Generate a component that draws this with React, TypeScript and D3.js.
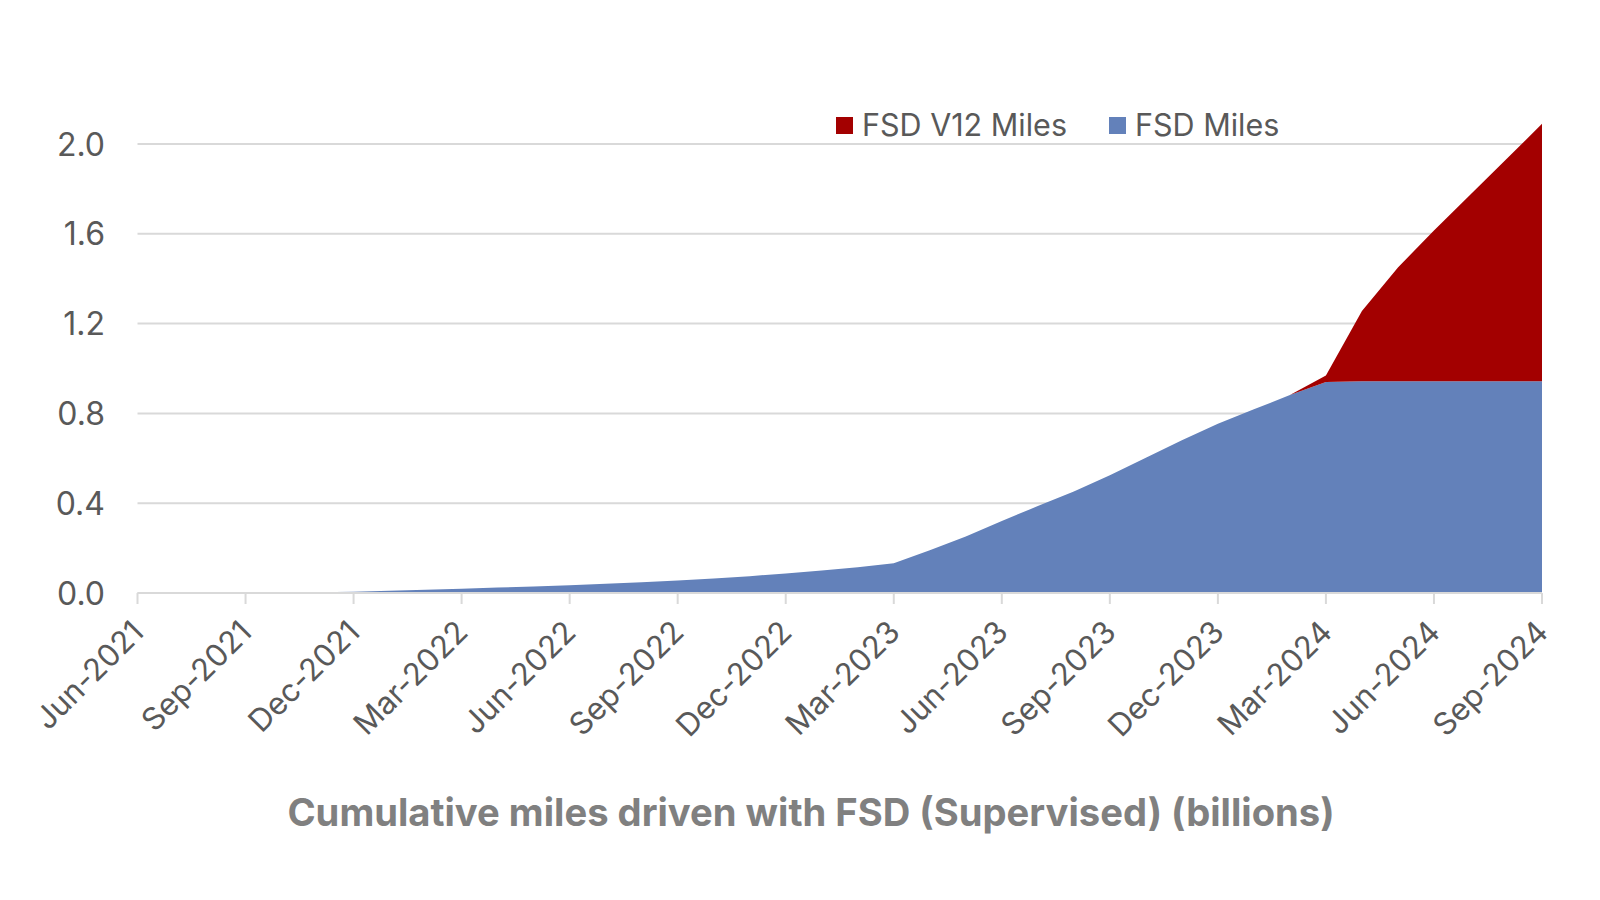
import React from "react"
import * as d3 from "d3"

// month categories, Jun-2021 .. Sep-2024
const months: string[] = [
	"Jun-2021", "Jul-2021", "Aug-2021", "Sep-2021", "Oct-2021", "Nov-2021", "Dec-2021",
	"Jan-2022", "Feb-2022", "Mar-2022", "Apr-2022", "May-2022", "Jun-2022", "Jul-2022",
	"Aug-2022", "Sep-2022", "Oct-2022", "Nov-2022", "Dec-2022", "Jan-2023", "Feb-2023",
	"Mar-2023", "Apr-2023", "May-2023", "Jun-2023", "Jul-2023", "Aug-2023", "Sep-2023",
	"Oct-2023", "Nov-2023", "Dec-2023", "Jan-2024", "Feb-2024", "Mar-2024", "Apr-2024",
	"May-2024", "Jun-2024", "Jul-2024", "Aug-2024", "Sep-2024",
]

// cumulative FSD miles (billions), bottom series
const fsdMiles: number[] = [
	0, 0, 0, 0, 0.001, 0.003, 0.006,
	0.01, 0.014, 0.019, 0.024, 0.029, 0.035, 0.041,
	0.048, 0.056, 0.065, 0.075, 0.087, 0.1, 0.115,
	0.132, 0.19, 0.252, 0.321, 0.387, 0.452, 0.524,
	0.602, 0.68, 0.754, 0.818, 0.882, 0.94, 0.943,
	0.943, 0.943, 0.943, 0.943, 0.943,
]

// cumulative FSD V12 miles (billions), stacked on top
const v12Miles: number[] = [
	0, 0, 0, 0, 0, 0, 0,
	0, 0, 0, 0, 0, 0, 0,
	0, 0, 0, 0, 0, 0, 0,
	0, 0, 0, 0, 0, 0, 0,
	0, 0, 0, 0, 0, 0.029, 0.313,
	0.507, 0.672, 0.83, 0.988, 1.147,
]

const xTickLabels: string[] = months.filter((_, i) => i % 3 === 0)
const yTicks: number[] = [0, 0.4, 0.8, 1.2, 1.6, 2.0]
const v12Start = "Feb-2024"

const legendItems: [string, string][] = [
	["FSD V12 Miles", "#a30000"],
	["FSD Miles", "#6381ba"],
]

const title = "Cumulative miles driven with FSD (Supervised) (billions)"

export default function App() {
	const width = 1600
	const height = 900
	const font = "Inter, 'Liberation Sans', Arial, sans-serif"
	const textColor = "#595959"
	const gridColor = "#d9d9d9"

	const x = d3.scalePoint<string>().domain(months).range([137.5, 1542])
	const y = d3.scaleLinear().domain([0, 2]).range([593, 144])

	const rows = months.map((m, i) => ({ month: m, fsd: fsdMiles[i], v12: v12Miles[i] }))
	const stacked = d3.stack<any>().keys(["fsd", "v12"])(rows)
	const startIdx = months.indexOf(v12Start)

	const area = d3
		.area<any>()
		.x((d) => x(d.data.month) as number)
		.y0((d) => y(d[0]))
		.y1((d) => y(d[1]))

	// V12 only drawn from the month it starts
	const v12Area = d3
		.area<any>()
		.defined((d, i) => i >= startIdx)
		.x((d) => x(d.data.month) as number)
		.y0((d) => y(d[0]))
		.y1((d) => y(d[1]))

	return (
		<div style={{ position: "absolute", left: 0, top: 0 }}>
			<svg width={width} height={height} style={{ display: "block", background: "#fff" }}>
				{/* grid */}
				{yTicks.map((t) => (
					<g key={t}>
						<line
							x1={x.range()[0]}
							x2={x.range()[1]}
							y1={y(t)}
							y2={y(t)}
							stroke={gridColor}
							strokeWidth={2}
						/>
						<text
							x={105}
							y={y(t)}
							dy="0.36em"
							textAnchor="end"
							fontFamily={font}
							fontSize={32}
							fill={textColor}>
							{d3.format(".1f")(t)}
						</text>
					</g>
				))}

				{/* areas */}
				<path d={area(stacked[0]) || ""} fill="#6381ba" />
				<path d={v12Area(stacked[1]) || ""} fill="#a30000" />

				{/* x axis */}
				<line
					x1={x.range()[0]}
					x2={x.range()[1]}
					y1={y(0)}
					y2={y(0)}
					stroke={gridColor}
					strokeWidth={2}
				/>
				{xTickLabels.map((m) => {
					const px = x(m) as number
					return (
						<g key={m}>
							<line x1={px} x2={px} y1={y(0)} y2={y(0) + 11} stroke={gridColor} strokeWidth={2} />
							<text
								transform={`translate(${px + 8},${y(0) + 41}) rotate(-45)`}
								textAnchor="end"
								fontFamily={font}
								fontSize={31}
								fill={textColor}>
								{m}
							</text>
						</g>
					)
				})}

				{/* legend */}
				{legendItems.map(([label, color], i) => {
					const lx = i === 0 ? 836 : 1109
					return (
						<g key={label}>
							<rect x={lx} y={117} width={17} height={17} fill={color} />
							<text
								x={lx + 26}
								y={125}
								dy="0.36em"
								fontFamily={font}
								fontSize={30.5}
								fill={textColor}>
								{label}
							</text>
						</g>
					)
				})}

				<text
					x={811}
					y={812}
					dy="0.36em"
					textAnchor="middle"
					fontFamily={font}
					fontWeight="bold"
					fontSize={38.2}
					fill="#808080">
					{title}
				</text>
			</svg>
		</div>
	)
}
